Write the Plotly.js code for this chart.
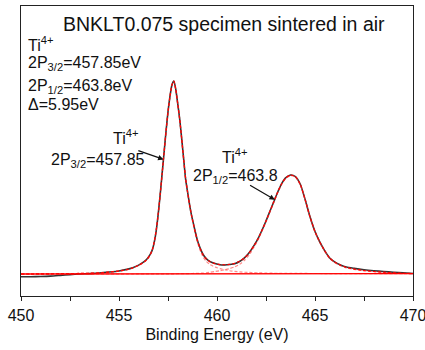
<!DOCTYPE html>
<html>
<head>
<meta charset="utf-8">
<script src="https://cdn.plot.ly/plotly-3.0.1.min.js"></script>
<style>html,body{margin:0;padding:0;background:#fff;}#chart{width:425px;height:350px;}</style>
</head>
<body>
<div id="chart"></div>
<script>
// Binding energy grid (eV)
const energy = [
  450, 450.5, 451, 451.5, 452, 452.5, 453, 453.5, 454, 454.5,
  455, 455.4, 455.7, 456, 456.3, 456.45, 456.6, 456.7, 456.8, 456.9,
  457, 457.1, 457.2, 457.3, 457.4, 457.5, 457.6, 457.7, 457.8, 457.9,
  458, 458.1, 458.2, 458.3, 458.4, 458.5, 458.6, 458.7, 458.8, 458.9,
  459, 459.1, 459.2, 459.3, 459.45, 459.65, 459.9, 460.15, 460.4, 460.65,
  460.9, 461.15, 461.4, 461.65, 461.9, 462.1, 462.3, 462.5, 462.7, 462.9,
  463.1, 463.3, 463.5, 463.75, 464, 464.25, 464.5, 464.75, 465, 465.25,
  465.5, 465.75, 466, 466.3, 466.6, 467, 467.5, 468, 468.5, 469,
  469.5, 470
];
// Measured intensity (arb. units)
const measured = [
  -1.4, -1.4, -1.3, -1.1, -0.7, -0.3, 0.0, 0.2, 0.5, 1.0,
  1.6, 2.4, 3.3, 4.6, 6.5, 8.0, 10.3, 12.5, 16.5, 22.5,
  31, 41, 52, 63, 74, 84, 92, 98, 100, 95.5,
  88, 80, 70, 59.5, 49, 42.5, 36, 30.5, 26, 21.5,
  17.5, 14.5, 12, 10, 8, 6.4, 5.4, 4.8, 4.7, 4.9,
  5.3, 6.5, 8.4, 11.2, 15, 18.5, 22.8, 27.5, 32.5, 37.5,
  42.5, 46.8, 49.8, 51.3, 50.5, 46.5, 38.5, 29.5, 22, 16.5,
  12, 8.3, 6.3, 4.7, 3.6, 2.9, 2.2, 1.7, 1.3, 0.9,
  0.6, 0.3
];
// Fitted envelope
const envelope = [
  0.0, 0.0, 0.05, 0.1, 0.15, 0.2, 0.3, 0.4, 0.6, 1.0,
  1.6, 2.3, 3.2, 4.5, 6.4, 7.8, 10.2, 12.6, 16.8, 22.8,
  31, 41, 52, 63, 74, 84, 92, 98, 100, 95.5,
  88, 80, 70, 59.5, 49.5, 42.5, 36, 30.5, 25.8, 21.3,
  17.4, 14.3, 11.8, 9.8, 7.9, 6.3, 5.4, 4.9, 4.8, 5.0,
  5.5, 6.6, 8.4, 11.2, 14.9, 18.4, 22.8, 27.5, 32.5, 37.6,
  42.5, 46.8, 49.8, 51.3, 50.5, 46.5, 38.5, 29.5, 22, 16.5,
  12, 8.3, 6.2, 4.6, 3.4, 2.5, 1.8, 1.3, 0.9, 0.6,
  0.4, 0.3
];
// Ti 2p3/2 component
const comp32 = [
  0.0, 0.0, 0.05, 0.1, 0.15, 0.2, 0.3, 0.4, 0.6, 1.0,
  1.5, 2.2, 3.1, 4.4, 6.3, 7.7, 10.1, 12.5, 16.7, 22.7,
  30.9, 40.9, 51.9, 62.9, 73.9, 83.9, 91.9, 97.9, 99.9, 95.4,
  87.9, 79.8, 69.8, 59.3, 49.2, 42.2, 35.6, 30.0, 25.2, 20.6,
  16.6, 13.4, 10.8, 8.7, 6.6, 4.8, 3.6, 2.8, 2.2, 1.7,
  1.4, 1.1, 0.9, 0.8, 0.7, 0.6, 0.55, 0.5, 0.45, 0.4,
  0.4, 0.35, 0.35, 0.3, 0.3, 0.3, 0.3, 0.25, 0.25, 0.25,
  0.2, 0.2, 0.2, 0.2, 0.2, 0.2, 0.2, 0.2, 0.2, 0.2,
  0.2, 0.2
];
// Ti 2p1/2 component
const comp12 = [
  0.0, 0.0, 0.0, 0.0, 0.0, 0.0, 0.0, 0.0, 0.0, 0.0,
  0.0, 0.0, 0.0, 0.05, 0.05, 0.05, 0.05, 0.05, 0.05, 0.1,
  0.1, 0.1, 0.1, 0.1, 0.1, 0.1, 0.1, 0.1, 0.1, 0.1,
  0.15, 0.15, 0.15, 0.2, 0.2, 0.2, 0.25, 0.25, 0.3, 0.3,
  0.35, 0.4, 0.45, 0.5, 0.6, 0.9, 1.3, 1.7, 2.2, 2.8,
  3.7, 5.0, 7.1, 10.0, 14.1, 17.8, 22.3, 27, 32.1, 37.2,
  42.1, 46.5, 49.5, 51, 50.2, 46.2, 38.2, 29.2, 21.7, 16.2,
  11.7, 8.0, 5.9, 4.3, 3.2, 2.4, 1.7, 1.2, 0.8, 0.5,
  0.3, 0.2
];
// Background
const bgEnergy = [450, 470];
const bgValue = [0.0, 0.2];

const FONT = 'Liberation Sans, Arial, Helvetica, sans-serif';
const traces = [
  {x: energy, y: measured, type: 'scatter', mode: 'lines', name: 'measured',
   line: {color: '#333333', width: 1.6, shape: 'spline', smoothing: 0.6}},
  {x: energy, y: comp32, type: 'scatter', mode: 'lines', name: '2p3/2',
   line: {color: 'rgba(255,60,60,0.6)', width: 1.2, dash: '3px,2px', shape: 'spline', smoothing: 0.6}},
  {x: energy, y: comp12, type: 'scatter', mode: 'lines', name: '2p1/2',
   line: {color: 'rgba(255,60,60,0.6)', width: 1.2, dash: '3px,2px', shape: 'spline', smoothing: 0.6}},
  {x: bgEnergy, y: bgValue, type: 'scatter', mode: 'lines', name: 'background',
   line: {color: '#ff0000', width: 1.3}},
  {x: energy, y: envelope, type: 'scatter', mode: 'lines', name: 'fit',
   line: {color: '#ff0000', width: 1.2, dash: '3px,2px', shape: 'spline', smoothing: 0.6}}
];

const txt = (text, x, y, size, xanchor) => ({
  text: text, xref: 'paper', yref: 'paper', x: x, y: y, xanchor: xanchor || 'center', yanchor: 'middle',
  showarrow: false, font: {family: FONT, size: size, color: '#111'}
});

const layout = {
  width: 425, height: 350,
  margin: {l: 21, r: 12, t: 6, b: 54},
  paper_bgcolor: '#fff', plot_bgcolor: '#fff',
  showlegend: false,
  font: {family: FONT, color: '#111'},
  xaxis: {
    range: [450, 470], tick0: 450, dtick: 5,
    ticks: 'outside', ticklen: 4, tickwidth: 1, tickcolor: '#222',
    minor: {dtick: 2.5, ticks: 'outside', ticklen: 4, tickwidth: 1, tickcolor: '#222'},
    showline: true, mirror: true, linecolor: '#222', linewidth: 1.3,
    showgrid: false, zeroline: false,
    ticklabeloverflow: 'allow',
    tickfont: {family: FONT, size: 16, color: '#111'},
    title: {text: 'Binding Energy (eV)', font: {family: FONT, size: 16, color: '#111'}, standoff: 6}
  },
  yaxis: {
    range: [-11.4, 138.9],
    showline: true, mirror: true, linecolor: '#222', linewidth: 1.3,
    showgrid: false, zeroline: false, showticklabels: false, ticks: ''
  },
  annotations: [
    txt('BNKLT0.075 specimen sintered in air', 0.518, 0.938, 19.5),
    txt('Ti<sup>4+</sup>', 0.0115, 0.868, 16, 'left'),
    txt('2P<sub>3/2</sub>=457.85eV', 0.0115, 0.800, 16, 'left'),
    txt('2P<sub>1/2</sub>=463.8eV', 0.0115, 0.722, 16, 'left'),
    txt('\u0394=5.95eV', 0.0115, 0.659, 16, 'left'),
    txt('Ti<sup>4+</sup>', 0.268, 0.548, 16),
    txt('2P<sub>3/2</sub>=457.85', 0.197, 0.468, 16),
    txt('Ti<sup>4+</sup>', 0.5455, 0.483, 16),
    txt('2P<sub>1/2</sub>=463.8', 0.546, 0.413, 16),
    {text: '', xref: 'x', yref: 'y', axref: 'x', ayref: 'y', x: 457.27, y: 59.4, ax: 455.91, ay: 64.2,
     showarrow: true, arrowhead: 2, arrowsize: 0.9, arrowwidth: 1.2, arrowcolor: '#111'},
    {text: '', xref: 'x', yref: 'y', axref: 'x', ayref: 'y', x: 462.95, y: 38.5, ax: 461.61, ay: 46.5,
     showarrow: true, arrowhead: 2, arrowsize: 0.9, arrowwidth: 1.2, arrowcolor: '#111'}
  ]
};

Plotly.newPlot('chart', traces, layout, {displayModeBar: false, staticPlot: true});
</script>
</body>
</html>
